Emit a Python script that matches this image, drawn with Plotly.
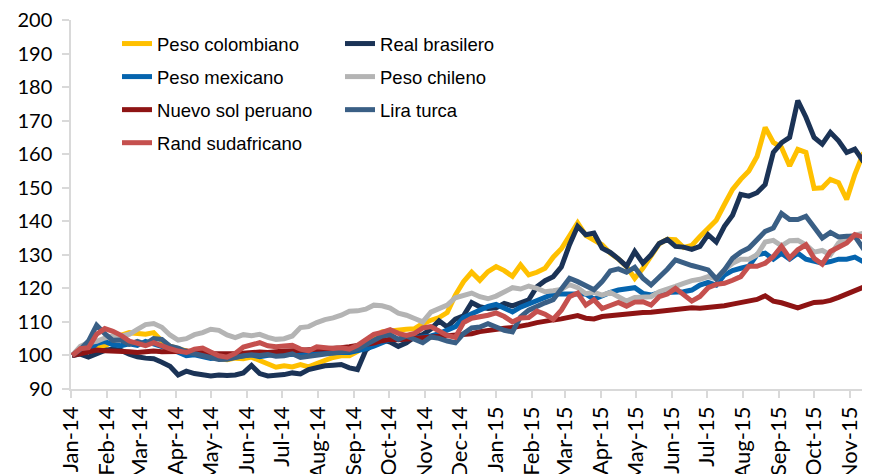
import pandas as pd
import plotly.graph_objects as go

# weekly observations, index base 100 = 2 Jan 2014
dates = pd.date_range("2014-01-02", periods=99, freq="7D")

peso_colombiano = [100, 101, 101.5, 102, 102.8, 104.3, 106, 106.8, 106.5, 106.3,
                   106.8, 104.3, 102.8, 102, 101.3, 100.6, 100.2, 99.5, 99, 98.7,
                   99.2, 99, 99.5, 98.5, 97.4, 96.5, 96.9, 96.6, 97.3, 96.6,
                   97.6, 98.5, 99.4, 99.9, 99.9, 101.2, 103.2, 104.9, 107, 107.3,
                   107.7, 107.8, 108, 109.5, 110.5, 111.3, 112.8, 118, 122, 124.8,
                   122.4, 125, 126.5, 125.3, 123.6, 127, 124, 124.8, 126, 129.3,
                   131.8, 135.5, 139.5, 135.8, 134.6, 133, 130.5, 128.8, 126.5, 123,
                   126, 130, 133.3, 134.6, 134.5, 132.2, 132.8, 135.5, 138, 140.3,
                   145, 149.5, 152.5, 155, 159.3, 168, 163.5, 162, 156.5, 161.4,
                   160.5, 149.8, 150, 152.5, 151.5, 146.5, 154, 160, 160.5]

real_brasilero = [100, 100.4, 99.5, 100.6, 101.5, 101.9, 101.5, 100.4, 99.6, 99.2,
                  99, 98, 96.8, 94.2, 95.3, 94.6, 94.2, 93.9, 94.2, 94,
                  94.2, 94.8, 97, 94.6, 93.9, 94, 94.3, 94.8, 94.5, 95.8,
                  96.4, 96.9, 97.1, 97.3, 96.3, 95.8, 101.5, 103.5, 104.7, 104,
                  102.7, 103.8, 105.5, 106.2, 107.9, 110.3, 108.5, 110.8, 111.8, 115.8,
                  114.5, 114, 114.2, 115.5, 114.8, 115.9, 116.6, 120.5, 122.3, 123.5,
                  126.4, 133, 138.5, 136, 136.5, 132, 130.7, 128.8, 126.6, 131,
                  127.5, 130, 133.4, 134.6, 132.5, 132.3, 131.6, 132.5, 136, 133.8,
                  138.5, 141.8, 148, 147.5, 148.5, 151, 160.5, 163.4, 165, 176,
                  171, 165, 163, 166.5, 164, 160.5, 161.5, 158, 157]

peso_mexicano = [100, 100.9, 101.5, 103.5, 104.2, 103.2, 102.9, 103.5, 103, 104.2,
                 103.5, 102.8, 101.9, 101, 99.9, 100.2, 99.8, 99.1, 99.4, 99,
                 99.5, 99.9, 100.2, 99.6, 100, 100.4, 100.2, 100.4, 100.4, 100.5,
                 100.6, 100.8, 100.9, 100.9, 100.9, 101.4, 102, 102.8, 104, 104.8,
                 104.8, 104.9, 105.2, 105.5, 105.8, 106.5, 107.5, 108.6, 111.3, 112.5,
                 113.7, 114.6, 115.2, 114, 113, 114.4, 115.5, 116.6, 117.3, 118.3,
                 118.3, 118.5, 118.2, 118.3, 116.8, 117.9, 118.8, 119.5, 119.7, 120.2,
                 118.5, 118, 118.7, 118.8, 119.2, 119, 119.5, 121, 121.8, 121,
                 124, 125.3, 126, 126.6, 130, 130.5, 128.7, 130.5, 128.7, 130.5,
                 128.7, 128, 127.5, 128, 128.7, 128.7, 129.3, 128, 126.6]

peso_chileno = [100, 102.7, 103.8, 104.2, 105.2, 105.9, 105.8, 106.3, 107.8, 109.2,
                109.5, 108.4, 106.1, 104.6, 105, 106.2, 106.8, 107.8, 107.5, 106.1,
                105.3, 106.2, 105.9, 106.3, 105.4, 104.8, 105, 105.8, 108.3, 108.6,
                109.8, 110.7, 111.2, 112, 113.2, 113.3, 113.8, 115, 114.8, 114.1,
                112.6, 112, 111, 110, 112.9, 113.8, 115, 117.2, 117.8, 118.6,
                117.5, 116.9, 117.7, 119, 120.2, 119.8, 120.7, 120, 119, 119.3,
                119.7, 121.1, 120.2, 118.4, 118.8, 118, 118.8, 117.5, 116.2, 117.3,
                117.4, 117.5, 119, 119.7, 120.6, 121.5, 122.3, 122.7, 123.5, 122.8,
                125.5, 127.5, 128.7, 128.7, 130, 133.8, 134.3, 132.7, 134.2, 134.3,
                133, 130.8, 131.3, 130, 133.5, 135.3, 135.8, 136.6, 137]

nuevo_sol = [100, 100.5, 101.1, 101.6, 101.4, 101.3, 101.5, 101.1, 100.9, 101.2,
             101.3, 101.1, 101, 101.2, 101.3, 101.2, 100.9, 100.6, 100.4, 100.5,
             100.5, 100.7, 100.9, 101, 100.9, 101.2, 101.3, 101.4, 101.5, 101.6,
             101.8, 101.9, 102.1, 102.3, 102.6, 102.9, 103.3, 103.7, 104.4, 104.8,
             104.7, 104.9, 104.8, 105, 105.2, 105.5, 105.8, 106, 106.3, 106.5,
             107.1, 107.5, 107.8, 108.1, 108.3, 108.6, 109.2, 109.8, 110.3, 110.6,
             110.9, 111.4, 111.9, 111.1, 110.9, 111.6, 111.9, 112.2, 112.4, 112.6,
             112.8, 112.9, 113.2, 113.3, 113.7, 113.9, 114.2, 114.1, 114.3, 114.4,
             114.8, 115.3, 115.7, 116.1, 116.7, 117.8, 116.2, 115.7, 115, 114.2,
             115, 115.8, 115.9, 116.4, 117.3, 118.3, 119.2, 120.2, 121.3]

lira_turca = [100, 101.8, 104.3, 109, 106.5, 104.5, 104.6, 103.3, 104.2, 103.4,
              105, 104.8, 102.8, 102.2, 101.1, 100.5, 99.9, 99.6, 98.8, 98.9,
              99.5, 99.9, 100.2, 100, 100.3, 99.8, 99.9, 100.5, 99.4, 99.7,
              99.9, 100.2, 100.5, 100.9, 101.4, 101.9, 103.2, 104.4, 105.8, 106.2,
              104.8, 105.8, 104.9, 103.8, 105.5, 105.1, 104.3, 103.8, 106.5, 108.2,
              108.5, 109.5, 108.5, 107.5, 107, 111.5, 113.5, 114.7, 115.7, 116.6,
              119.7, 123, 122, 120.8, 119.6, 122, 125.2, 125.8, 124.8, 126.3,
              123, 121, 123.3, 125.7, 128.5, 127.5, 126.8, 126.2, 125.5, 122.8,
              125.5, 129, 130.8, 132, 134.5, 137, 138, 142.3, 140.5, 140.5,
              141.5, 138.5, 135, 136.7, 135.3, 135.5, 135.5, 132, 132.5]

rand_sudafricano = [100, 102, 102.3, 106.3, 108, 107.2, 106, 104.3, 103.6, 102.9,
                    103.8, 102.8, 102, 101.3, 100.9, 101.9, 102.2, 101, 99.9, 99.5,
                    100.6, 102.5, 103, 103.8, 102.9, 102.6, 102.8, 103, 101.9, 101.4,
                    102.6, 102.2, 102.1, 102.3, 101.9, 103, 104.5, 106.3, 106.9, 107.7,
                    106.6, 106, 106.6, 108.2, 108.6, 107.3, 106, 105.4, 109.8, 111.1,
                    111.5, 112, 112.7, 111.6, 110, 111.2, 111.3, 113.2, 112.3, 110.8,
                    113.5, 117.5, 118.6, 115, 116.6, 114, 114.9, 115.8, 114.7, 115.9,
                    116, 115, 117.5, 118.3, 120, 118, 116.2, 117.6, 120.2, 121.2,
                    121.5, 122.4, 123.5, 126.6, 126.6, 127.5, 129.5, 132.5, 129, 131.5,
                    133, 129, 127.2, 131, 132.3, 133.5, 136, 135.3, 135]

tick_dates = pd.date_range("2014-01-01", "2015-11-01", freq="MS")
tick_labels = ["Jan-14", "Feb-14", "Mar-14", "Apr-14", "May-14", "Jun-14", "Jul-14",
               "Aug-14", "Sep-14", "Oct-14", "Nov-14", "Dec-14", "Jan-15", "Feb-15",
               "Mar-15", "Apr-15", "May-15", "Jun-15", "Jul-15", "Aug-15", "Sep-15",
               "Oct-15", "Nov-15"]

# (nombre, valores, color, leyenda)
series = [
    ("Peso colombiano", peso_colombiano, "#FFC000", "legend"),
    ("Real brasilero", real_brasilero, "#1B3356", "legend2"),
    ("Peso mexicano", peso_mexicano, "#0564AE", "legend"),
    ("Peso chileno", peso_chileno, "#B4B4B4", "legend2"),
    ("Nuevo sol peruano", nuevo_sol, "#8E1414", "legend"),
    ("Lira turca", lira_turca, "#3A5F85", "legend2"),
    ("Rand sudafricano", rand_sudafricano, "#C5504E", "legend"),
]

fig = go.Figure()
for nombre, valores, color, leyenda in series:
    fig.add_trace(go.Scatter(
        x=dates, y=valores, mode="lines", name=nombre,
        line=dict(color=color, width=5),
        legend=leyenda, legendgroup=nombre,
    ))

cor_eixo = "#D9D9D9"
fonte_leg = dict(family="Liberation Sans, Arial", size=18.5, color="#000000")

# the page body adds an 8px margin, so the margins here are shifted by 8px
fig.update_layout(
    width=870, height=474,
    plot_bgcolor="white", paper_bgcolor="white",
    margin=dict(l=63, r=8, t=12, b=93),
    font=dict(family="Lato, Calibri, sans-serif", size=20, color="#000000"),
    legend=dict(x=0.0576, y=0.9864, xanchor="left", yanchor="top",
                font=fonte_leg, bgcolor="rgba(0,0,0,0)",
                traceorder="grouped", tracegroupgap=6),
    legend2=dict(x=0.3367, y=0.9864, xanchor="left", yanchor="top",
                 font=fonte_leg, bgcolor="rgba(0,0,0,0)",
                 traceorder="grouped", tracegroupgap=6),
    xaxis=dict(
        type="date", range=["2014-01-01", "2015-11-18"],
        tickvals=tick_dates, ticktext=tick_labels, tickangle=-90,
        tickfont=dict(size=22), ticklabeloverflow="allow",
        ticks="outside", ticklen=7, tickcolor=cor_eixo, tickwidth=1.5,
        showline=True, linecolor=cor_eixo, linewidth=1.5,
        showgrid=False, zeroline=False, automargin=False,
    ),
    yaxis=dict(
        range=[90, 200], dtick=10, tick0=90,
        tickfont=dict(size=20), ticklabeloverflow="allow",
        ticks="outside", ticklen=7, tickcolor=cor_eixo, tickwidth=1.5,
        showline=True, linecolor=cor_eixo, linewidth=1.5,
        showgrid=False, zeroline=False, ticklabelstandoff=6, automargin=False,
    ),
)

fig.write_html("out.html")
